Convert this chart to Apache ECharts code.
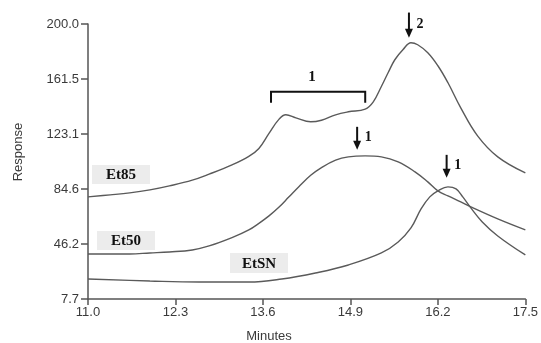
<!DOCTYPE html>
<html><head><meta charset="utf-8">
<script src="https://cdn.jsdelivr.net/npm/echarts@6/dist/echarts.min.js"></script>
<style>html,body{margin:0;padding:0;background:#fff}#c{width:541px;height:343px}</style>
</head><body><div id="c"></div>
<script>
// Axis ticks
const xTicks = [11.0, 12.3, 13.6, 14.9, 16.2, 17.5];
const yTicks = [7.7, 46.2, 84.6, 123.1, 161.5, 200.0];

// Et85 trace (minutes, response)
const times85 = [11.0, 11.33, 11.62, 11.92, 12.21, 12.55, 12.8, 13.14, 13.39, 13.54, 13.69, 13.84, 13.94, 14.09, 14.31, 14.47, 14.68, 14.87, 15.12, 15.24, 15.36, 15.46, 15.56, 15.68, 15.8, 15.9, 16.05, 16.2, 16.35, 16.54, 16.79, 17.09, 17.5];
const et85 = [79.1, 80.5, 81.9, 84.0, 86.8, 90.8, 95.0, 101.5, 107.5, 113.0, 123.5, 133.5, 136.5, 134.4, 131.6, 132.7, 136.5, 138.6, 140.5, 145.6, 156.3, 165.9, 175.0, 182.0, 186.9, 185.5, 179.9, 170.8, 158.9, 141.4, 121.8, 107.1, 95.9];

// Et50 trace
const times50 = [11.0, 11.33, 11.62, 11.92, 12.21, 12.55, 12.8, 13.14, 13.39, 13.54, 13.69, 13.84, 13.98, 14.13, 14.31, 14.47, 14.68, 14.87, 15.12, 15.36, 15.61, 15.86, 16.05, 16.2, 16.35, 16.54, 16.69, 17.09, 17.5];
const et50 = [39.2, 39.2, 39.2, 39.9, 40.6, 42.0, 44.8, 50.6, 56.0, 60.6, 65.8, 72.0, 78.8, 86.1, 94.2, 99.6, 104.8, 107.1, 107.8, 107.1, 103.6, 96.6, 89.6, 83.3, 79.8, 75.6, 72.1, 63.7, 56.0];

// EtSN trace
const timesSN = [11.0, 11.92, 12.65, 13.39, 13.88, 14.38, 14.87, 15.36, 15.61, 15.8, 15.95, 16.08, 16.2, 16.35, 16.47, 16.57, 16.69, 16.86, 17.09, 17.5];
const etSN = [21.7, 20.3, 19.6, 19.6, 21.7, 25.9, 31.5, 39.9, 47.6, 57.4, 70.7, 79.1, 83.3, 86.1, 84.7, 79.1, 71.4, 61.6, 51.8, 38.5];

// Annotation arrows (minutes, top response, bottom response, label)
const arrowX = [15.77, 15.0, 16.33];
const arrowTop = [208, 128.1, 108.5];
const arrowBottom = [190.4, 112.0, 92.4];
const arrowLabels = ['2', '1', '1'];
// Bracket over Et85 shoulder
const bracketX = [13.72, 15.12];
const bracketY = [152.6, 144.9];
const bracketLabel = '1';

const pairs = (t, v) => t.map((x, i) => [x, v[i]]);
const chart = echarts.init(document.getElementById('c'), null, {renderer: 'canvas'});
const lineStyle = {color: '#5a5a5a', width: 1.4};
const axisFont = {fontFamily: 'Liberation Sans, Arial, sans-serif', fontSize: 13, color: '#3a3a3a'};

chart.setOption({
  animation: false,
  backgroundColor: '#fff',
  grid: {left: 88, right: 14, top: 24, bottom: 44},
  xAxis: {
    type: 'value', min: 11.0, max: 17.5,
    axisLine: {show: true, lineStyle: {color: '#555', width: 1.5}},
    axisTick: {show: true, length: 6, customValues: xTicks, lineStyle: {color: '#555', width: 1.5}},
    axisLabel: Object.assign({customValues: xTicks, margin: 7, formatter: v => v.toFixed(1)}, axisFont),
    splitLine: {show: false}
  },
  yAxis: {
    type: 'value', min: 7.7, max: 200.0,
    axisLine: {show: true, lineStyle: {color: '#555', width: 1.5}},
    axisTick: {show: true, length: 7, customValues: yTicks, lineStyle: {color: '#555', width: 1.5}},
    axisLabel: Object.assign({customValues: yTicks, margin: 9, formatter: v => v.toFixed(1)}, axisFont),
    splitLine: {show: false}
  },
  series: [
    {name: 'Et85', type: 'line', data: pairs(times85, et85), smooth: 0.4, symbol: 'none', lineStyle},
    {name: 'Et50', type: 'line', data: pairs(times50, et50), smooth: 0.4, symbol: 'none', lineStyle},
    {name: 'EtSN', type: 'line', data: pairs(timesSN, etSN), smooth: 0.4, symbol: 'none', lineStyle}
  ]
});

const px = (x, y) => chart.convertToPixel({gridIndex: 0}, [x, y]);
const serif = 'bold 15px "Liberation Serif", "Times New Roman", serif';
const sans = '13px "Liberation Sans", Arial, sans-serif';
const g = [];
// axis names
g.push({type: 'text', x: 18, y: 152, rotation: Math.PI / 2,
  style: {text: 'Response', font: sans, fill: '#3a3a3a', align: 'center', verticalAlign: 'middle'}});
g.push({type: 'text', x: 269, y: 336,
  style: {text: 'Minutes', font: sans, fill: '#3a3a3a', align: 'center', verticalAlign: 'middle'}});
// series labels with light boxes
const boxes = [
  {t: 'Et85', x: 92, y: 165, w: 58, h: 19},
  {t: 'Et50', x: 97, y: 231, w: 58, h: 19},
  {t: 'EtSN', x: 230, y: 253, w: 58, h: 20}
];
boxes.forEach(b => {
  g.push({type: 'rect', shape: {x: b.x, y: b.y, width: b.w, height: b.h}, style: {fill: '#ececec'}, z: 10});
  g.push({type: 'text', x: b.x + b.w / 2, y: b.y + b.h / 2 + 1, z: 11,
    style: {text: b.t, font: serif, fill: '#111', align: 'center', verticalAlign: 'middle'}});
});
// arrows
arrowX.forEach((ax, i) => {
  const p1 = px(ax, arrowTop[i]);
  const p2 = px(ax, arrowBottom[i]);
  g.push({type: 'line', shape: {x1: p1[0], y1: p1[1], x2: p2[0], y2: p2[1] - 7}, style: {stroke: '#111', lineWidth: 2}, z: 12});
  g.push({type: 'polygon', shape: {points: [[p2[0] - 4, p2[1] - 9], [p2[0] + 4, p2[1] - 9], [p2[0], p2[1]]]}, style: {fill: '#111'}, z: 12});
  g.push({type: 'text', x: p1[0] + 11, y: (p1[1] + p2[1]) / 2 - 1, z: 12,
    style: {text: arrowLabels[i], font: 'bold 14px "Liberation Serif", "Times New Roman", serif', fill: '#111', align: 'center', verticalAlign: 'middle'}});
});
// bracket
const bl = px(bracketX[0], bracketY[0]);
const br = px(bracketX[1], bracketY[0]);
const bb = px(bracketX[0], bracketY[1]);
g.push({type: 'polyline', shape: {points: [[bl[0], bb[1]], [bl[0], bl[1]], [br[0], br[1]], [br[0], bb[1]]]},
  style: {stroke: '#111', lineWidth: 2, fill: null}, z: 12});
g.push({type: 'text', x: (bl[0] + br[0]) / 2 - 6, y: bl[1] - 15, z: 12,
  style: {text: bracketLabel, font: 'bold 15px "Liberation Serif", "Times New Roman", serif', fill: '#111', align: 'center', verticalAlign: 'middle'}});

chart.setOption({graphic: g});
</script>
</body></html>
